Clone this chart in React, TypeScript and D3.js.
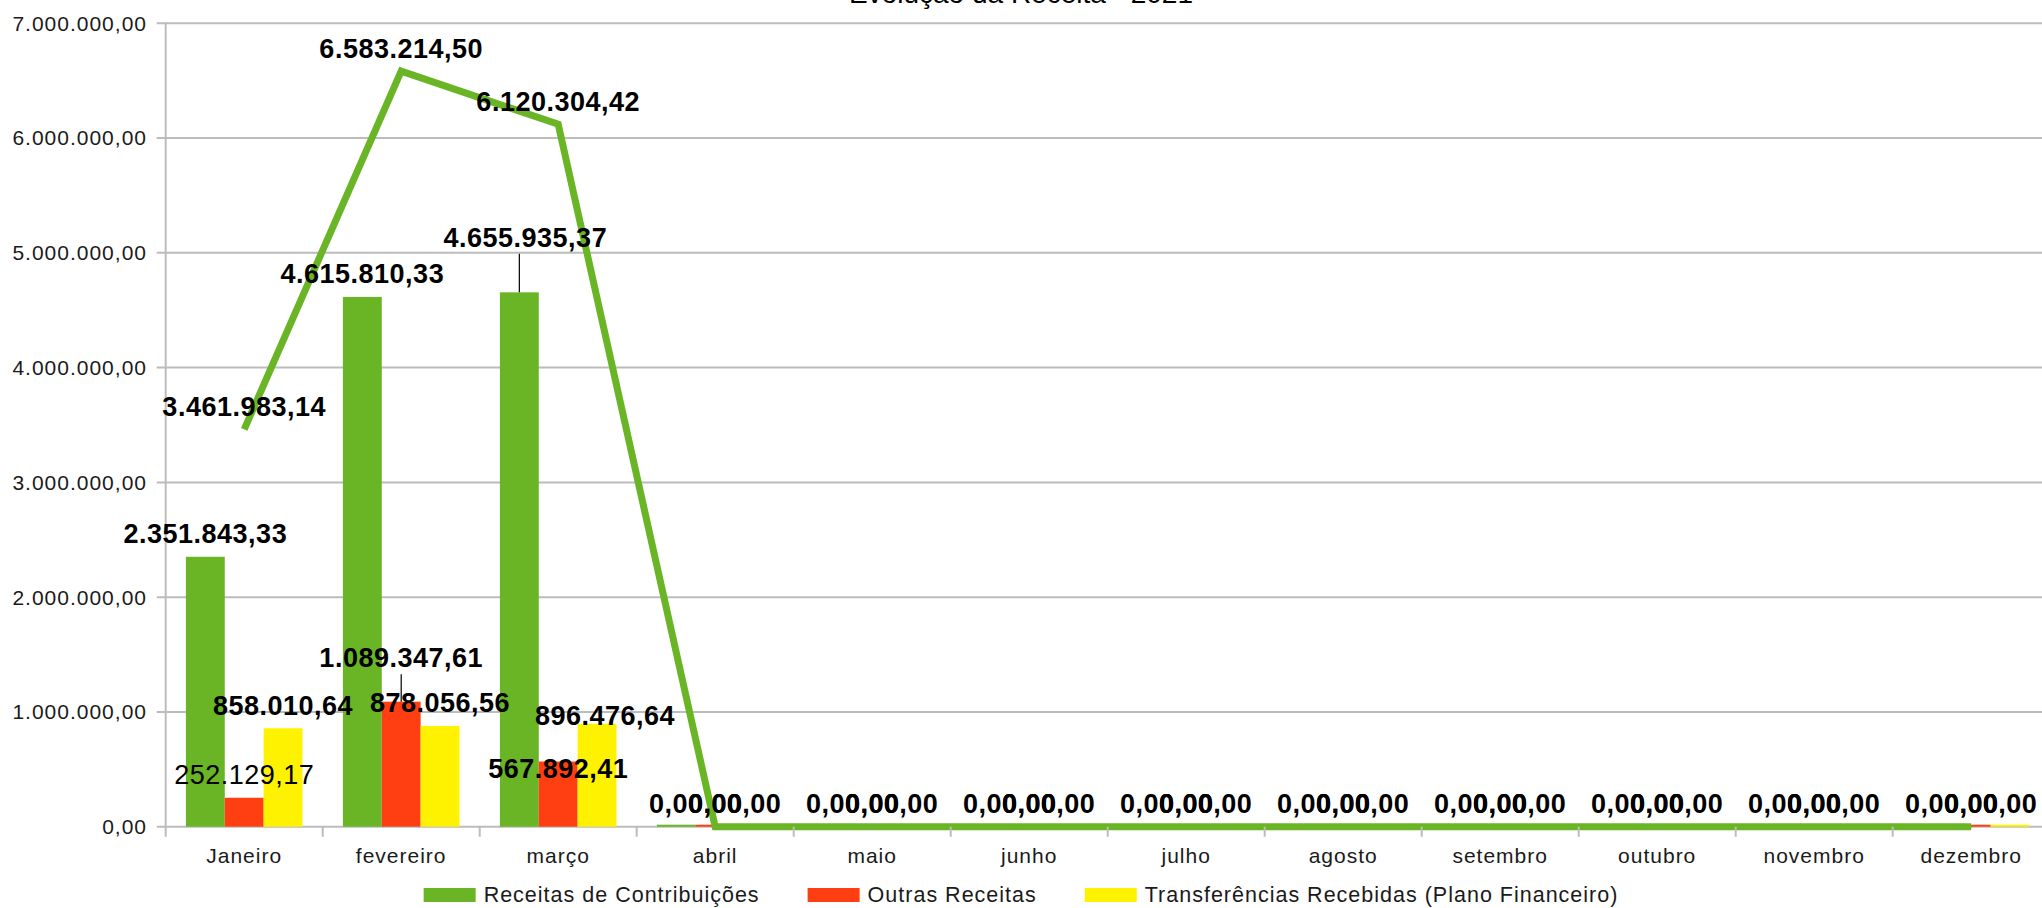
import { useEffect, useMemo } from 'react';
import * as d3 from 'd3';

const TITLE = 'Evolução da Receita - 2021';

const MONTHS = [
  'Janeiro', 'fevereiro', 'março', 'abril', 'maio', 'junho',
  'julho', 'agosto', 'setembro', 'outubro', 'novembro', 'dezembro',
];

const SERIES = [
  'Receitas de Contribuições',
  'Outras Receitas',
  'Transferências Recebidas (Plano Financeiro)',
];

const CONTRIBUICOES = [2351843.33, 4615810.33, 4655935.37, 0, 0, 0, 0, 0, 0, 0, 0, 0];
const OUTRAS = [252129.17, 1089347.61, 567892.41, 0, 0, 0, 0, 0, 0, 0, 0, 0];
const TRANSFERENCIAS = [858010.64, 878056.56, 896476.64, 0, 0, 0, 0, 0, 0, 0, 0, 0];
// total line (sum of the three)
const TOTAL = [3461983.14, 6583214.5, 6120304.42, 0, 0, 0, 0, 0, 0, 0, 0, 0];

const Y_TICKS = [0, 1000000, 2000000, 3000000, 4000000, 5000000, 6000000, 7000000];

const COLORS = ['#69b526', '#ff3f12', '#fff200'];
const LINE_COLOR = '#69b526';
const GRID = '#bcbcbc';

// manual nudges of data labels (label placement of the original, key = series-month)
const LABEL_NUDGE: Record<string, { dx?: number; dy?: number; leader?: boolean; weight?: string }> = {
  '1-0': { weight: 'normal' },
  '1-1': { dy: -21, leader: true },
  '0-2': { dx: 6, dy: -32, leader: true },
  '1-2': { dy: 30 },
  '2-2': { dx: 8, dy: 15 },
};

const ptBR = d3.formatLocale({ decimal: ',', thousands: '.', grouping: [3], currency: ['R$ ', ''] });
const fmt = ptBR.format(',.2f');

const FONT = '"Liberation Sans", Arial, sans-serif';

export default function App() {
  useEffect(() => {
    document.body.style.margin = '0';
  }, []);

  const width = 2042;
  const height = 908;
  const left = 165.7;
  const band = 157;
  const top = 23.3;
  const bottom = 826.7;

  const x0 = d3.scaleBand<string>().domain(MONTHS).range([left, left + band * MONTHS.length]).padding(0);
  const x1 = d3.scaleBand<number>().domain([0, 1, 2]).range([0, x0.bandwidth()]).paddingInner(0).paddingOuter(0.52);
  const y = d3.scaleLinear().domain([0, 7000000]).range([bottom, top]);

  const values = [CONTRIBUICOES, OUTRAS, TRANSFERENCIAS];
  const cx = (m: string) => (x0(m) ?? 0) + x0.bandwidth() / 2;

  const line = d3.line<number>()
    .x((_, i) => cx(MONTHS[i]))
    .y(d => y(d));

  // legend layout from measured text widths
  const legend = useMemo(() => {
    const ctx = document.createElement('canvas').getContext('2d')!;
    ctx.font = `21.5px ${FONT}`;
    const sw = 52, gapText = 8, gapItem = 48;
    const widths = SERIES.map(s => ctx.measureText(s).width + s.length * 1);
    const total = widths.reduce((a, w) => a + sw + gapText + w, 0) + gapItem * (SERIES.length - 1);
    let xx = width / 2 - total / 2;
    return SERIES.map((s, i) => {
      const item = { label: s, x: xx, tx: xx + sw + gapText, color: COLORS[i] };
      xx += sw + gapText + widths[i] + gapItem;
      return item;
    });
  }, []);

  const labelGap = 13.5;

  return (
    <svg width={width} height={height} style={{ display: 'block', background: '#fff' }} fontFamily={FONT}>
      <rect width={width} height={height} fill="#fff" />

      {/* title (cut off at the top like the original) */}
      <text x={width / 2} y={3} textAnchor="middle" fontSize={28} fill="#000">{TITLE}</text>

      {/* grid */}
      {Y_TICKS.map(t => (
        <line key={t} x1={left - 9} x2={x0.range()[1]} y1={y(t)} y2={y(t)} stroke={GRID} strokeWidth={2} />
      ))}

      {/* bars */}
      {values.map((vals, si) => vals.map((v, mi) => {
        const m = MONTHS[mi];
        const bx = (x0(m) ?? 0) + (x1(si) ?? 0);
        const h = Math.max(2, bottom - y(v));
        return <rect key={`${si}-${mi}`} x={bx} y={bottom - h} width={x1.bandwidth()} height={h} fill={COLORS[si]} />;
      }))}

      {/* total line */}
      <path d={line(TOTAL) ?? ''} fill="none" stroke={LINE_COLOR} strokeWidth={7} />

      {/* y axis */}
      <line x1={left} x2={left} y1={top - 1} y2={bottom + 10} stroke={GRID} strokeWidth={2} />
      {Y_TICKS.map(t => (
        <text key={t} x={147} y={y(t)} dy="0.35em" textAnchor="end" fontSize={21} letterSpacing={1} fill="#1a1a1a">
          {fmt(t)}
        </text>
      ))}

      {/* x axis ticks */}
      {MONTHS.map(m => (
        <line key={m} x1={(x0(m) ?? 0) + band} x2={(x0(m) ?? 0) + band} y1={bottom} y2={bottom + 10} stroke={GRID} strokeWidth={2} />
      ))}
      {MONTHS.map(m => (
        <text key={m} x={cx(m)} y={863} textAnchor="middle" fontSize={21} letterSpacing={1} fill="#1a1a1a">{m}</text>
      ))}

      {/* bar data labels */}
      {values.map((vals, si) => vals.map((v, mi) => {
        const m = MONTHS[mi];
        const bx = (x0(m) ?? 0) + (x1(si) ?? 0) + x1.bandwidth() / 2;
        const nudge = LABEL_NUDGE[`${si}-${mi}`] ?? {};
        const ty = y(v) - labelGap + (nudge.dy ?? 0);
        return (
          <g key={`l${si}-${mi}`}>
            {nudge.leader && (
              <line x1={bx} x2={bx} y1={y(v)} y2={ty + 7} stroke="#000" strokeWidth={1.2} />
            )}
            <text x={bx + (nudge.dx ?? 0)} y={ty} textAnchor="middle" fontSize={27} letterSpacing={0.5}
              fontWeight={nudge.weight ?? 'bold'} fill="#000">
              {fmt(v)}
            </text>
          </g>
        );
      }))}

      {/* line data labels */}
      {TOTAL.map((v, mi) => (
        <text key={`t${mi}`} x={cx(MONTHS[mi])} y={y(v) - labelGap} textAnchor="middle" fontSize={27}
          letterSpacing={0.5} fontWeight="bold" fill="#000">
          {fmt(v)}
        </text>
      ))}

      {/* legend */}
      {legend.map(l => (
        <g key={l.label}>
          <rect x={l.x} y={888} width={52} height={14} fill={l.color} />
          <text x={l.tx} y={901.5} fontSize={21.5} letterSpacing={1} fill="#1a1a1a">{l.label}</text>
        </g>
      ))}
    </svg>
  );
}
